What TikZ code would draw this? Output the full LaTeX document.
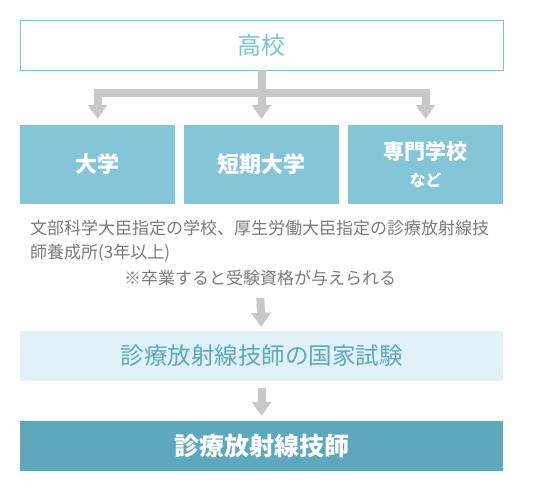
\documentclass[tikz,border=0pt]{standalone}
\usepackage{fontspec}
\setmainfont{Noto Sans CJK JP}
\usetikzlibrary{arrows.meta}
\definecolor{sora}{HTML}{7CC3D6}
\definecolor{mizu}{HTML}{85C5D8}
\definecolor{usumizu}{HTML}{E0F2F8}
\definecolor{ao}{HTML}{5EA8BD}
\definecolor{hai}{HTML}{C8C8C8}
\definecolor{sumi}{HTML}{7A7A7A}
\begin{document}
\begin{tikzpicture}[x=1pt, y=-1pt,
      every node/.style={align=center, inner sep=0pt},
      waku/.style={minimum width=483pt, minimum height=50pt},
      gakko/.style={fill=mizu, text=white, minimum width=155pt, minimum height=79pt, font=\fontsize{22}{26}\selectfont\bfseries},
      chu/.style={text=sumi, font=\fontsize{17}{20}\selectfont},
      bar/.style={draw=hai, line width=8pt},
      ya/.style={bar, -{Triangle[width=19pt, length=14pt]}}
    ]
    \useasboundingbox (0,0) rectangle (541,493);
    \node[waku, draw=sora, line width=0.8pt, text=sora, font=\fontsize{24}{26}\selectfont] (koko) at (261.5,45) {高校};
    \node[gakko] (daigaku) at (97.5,164.5) {大学};
    \node[gakko] (tandai)  at (261.5,164.5) {短期大学};
    \node[gakko, font=\bfseries] (senmon) at (425.5,164.5) {{\fontsize{21}{24}\selectfont 専門学校}\\[11pt]{\fontsize{16}{18}\selectfont など}};
    \node[chu, anchor=west] (chu1) at (30,228) {文部科学大臣指定の学校、厚生労働大臣指定の診療放射線技};
    \node[chu, anchor=west] (chu2) at (30,253) {師養成所(3年以上)};
    \node[chu] (chu3) at (260,278) {※卒業すると受験資格が与えられる};
    \node[waku, fill=usumizu, text=ao, font=\fontsize{23.5}{28}\selectfont] (shiken) at (261.5,356) {診療放射線技師の国家試験};
    \node[waku, fill=ao, text=white, font=\fontsize{25}{28}\selectfont\bfseries] (gishi) at (261.5,446) {診療放射線技師};
    \coordinate (bunki) at (261.5,92.5);
    % branches
    \draw[bar] (koko.south) -- (bunki);
    \draw[ya, line join=miter, shorten >=6pt] (bunki) -| (daigaku.north);
    \draw[ya, line join=miter, shorten >=6pt] (bunki) -| (senmon.north);
    \draw[ya, shorten >=6pt] (bunki) -- (tandai.north);
    \draw[ya, shorten <=12pt, shorten >=4pt] (chu3.south) -- (shiken.north);
    \draw[ya, shorten <=7pt, shorten >=5pt] (shiken.south) -- (gishi.north);
  \end{tikzpicture}
\end{document}
